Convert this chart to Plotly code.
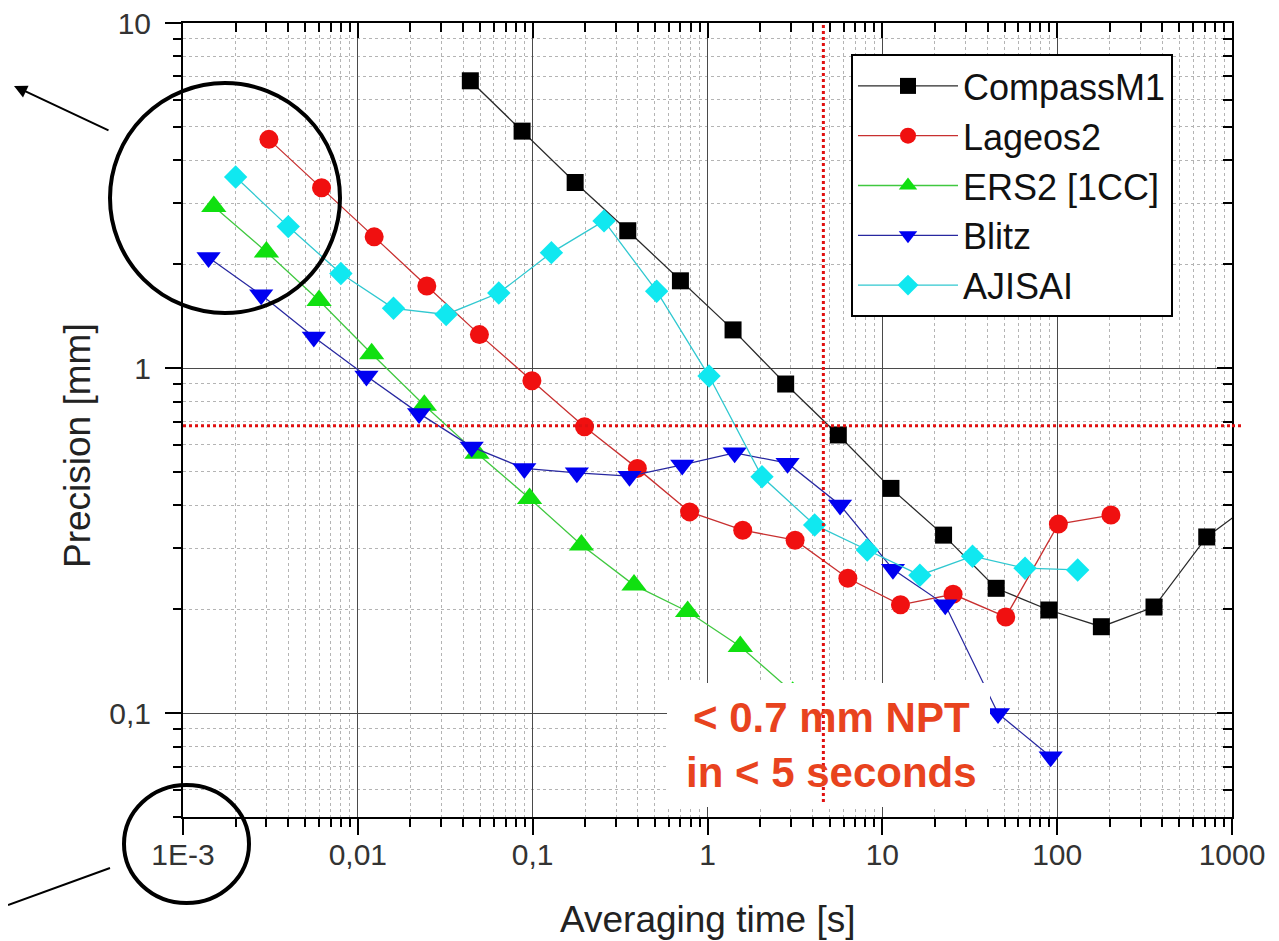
import plotly.graph_objects as go
import math

# ---------------- data ----------------
compass_x = [0.044, 0.087, 0.175, 0.35, 0.7, 1.4, 2.8, 5.6, 11.2, 22.4, 44.8, 89.6, 179, 358, 717, 1434]
compass_y = [6.80, 4.86, 3.45, 2.50, 1.79, 1.29, 0.899, 0.64, 0.448, 0.328, 0.230, 0.199, 0.178, 0.203, 0.324, 0.42]

lageos_x = [0.0031, 0.0062, 0.0124, 0.0248, 0.0496, 0.099, 0.198, 0.397, 0.79, 1.59, 3.17, 6.35, 12.7, 25.4, 50.8, 101.6, 203]
lageos_y = [4.60, 3.33, 2.40, 1.73, 1.25, 0.919, 0.676, 0.512, 0.383, 0.339, 0.317, 0.246, 0.206, 0.221, 0.190, 0.353, 0.375]

ers_x = [0.0015, 0.003, 0.006, 0.012, 0.024, 0.048, 0.096, 0.19, 0.38, 0.77, 1.54, 3.07]
ers_y = [2.94, 2.17, 1.57, 1.10, 0.78, 0.566, 0.419, 0.307, 0.235, 0.197, 0.156, 0.115]

blitz_x = [0.0014, 0.0028, 0.0056, 0.0112, 0.0224, 0.0448, 0.0896, 0.179, 0.358, 0.717, 1.43, 2.87, 5.73, 11.5, 22.9, 45.9, 91.8]
blitz_y = [2.09, 1.63, 1.23, 0.948, 0.739, 0.591, 0.512, 0.497, 0.486, 0.524, 0.568, 0.530, 0.401, 0.261, 0.206, 0.0998, 0.0747]

ajisai_x = [0.002, 0.004, 0.008, 0.016, 0.032, 0.064, 0.128, 0.256, 0.512, 1.02, 2.05, 4.1, 8.2, 16.4, 32.8, 65.5, 131]
ajisai_y = [3.58, 2.57, 1.88, 1.49, 1.43, 1.65, 2.16, 2.67, 1.67, 0.948, 0.484, 0.351, 0.297, 0.251, 0.285, 0.263, 0.260]

threshold_precision = 0.68   # mm (horizontal dotted line)
threshold_time = 4.6         # s  (vertical dotted line)

x_tickvals = [0.001, 0.01, 0.1, 1, 10, 100, 1000]
x_ticktext = ["1E-3", "0,01", "0,1", "1", "10", "100", "1000"]
y_tickvals = [0.1, 1, 10]
y_ticktext = ["0,1", "1", "10"]

x_range = [0.001, 1000]
y_range = [0.05, 10]

# ---------------- layout geometry (page pixels) ----------------
FONT = "Liberation Sans, Arial, sans-serif"
PAGE_OFF = 8                      # default body margin of the page
PL, PR, PT, PB = 183, 1232, 23, 817   # plot area on the page
W, H = 1279 - PAGE_OFF, 941 - PAGE_OFF
ML, MT = PL - PAGE_OFF, PT - PAGE_OFF
MR = W - (PR - PAGE_OFF)
MB = H - (PB - PAGE_OFF)
PW, PH = PR - PL, PB - PT


def px(xp):
    """page x pixel -> paper fraction"""
    return (xp - PL) / PW


def py(yp):
    """page y pixel -> paper fraction"""
    return (PB - yp) / PH


def minor_vals(lo, hi):
    vals = []
    e = math.floor(math.log10(lo))
    while 10 ** e <= hi:
        for k in range(2, 10):
            v = k * 10 ** e
            if lo <= v <= hi:
                vals.append(v)
        e += 1
    return vals


series = [
    ("CompassM1", compass_x, compass_y, "#000000", "#2a2a2a", "square", 17),
    ("Lageos2", lageos_x, lageos_y, "#f01010", "#c83030", "circle", 19),
    ("ERS2 [1CC]", ers_x, ers_y, "#10e010", "#40c840", "triangle-up", 22),
    ("Blitz", blitz_x, blitz_y, "#0000f0", "#2828a0", "triangle-down", 21),
    ("AJISAI", ajisai_x, ajisai_y, "#10e8f0", "#30c8d0", "diamond", 18),
]

fig = go.Figure()
for name, xs, ys, mcol, lcol, sym, size in series:
    fig.add_trace(go.Scatter(
        x=xs, y=ys, name=name, mode="lines+markers",
        line=dict(color=lcol, width=1.3),
        marker=dict(symbol=sym, size=size, color=mcol, line=dict(width=0)),
    ))

# horizontal threshold line drawn through the axes' scales
fig.add_trace(go.Scatter(
    x=x_range, y=[threshold_precision, threshold_precision], mode="lines",
    line=dict(color="#e01010", width=3, dash="dot"), showlegend=False, hoverinfo="skip",
))

# empty trace on a second, coincident subplot that carries the top/right frame (inside ticks)
fig.add_trace(go.Scatter(x=[], y=[], xaxis="x2", yaxis="y2", showlegend=False, hoverinfo="skip"))

lx = [math.log10(v) for v in x_range]
ly = [math.log10(v) for v in y_range]

axis_common = dict(
    type="log", showline=True, linecolor="black", linewidth=2, automargin=False,
    mirror=True, tickcolor="black", tickwidth=2, ticklen=16, ticklabeloverflow="allow",
    tickfont=dict(family=FONT, size=30, color="#333333"),
)

frame_common = dict(
    type="log", automargin=False, showline=True, linecolor="black", linewidth=2,
    tickmode="array", ticks="inside", ticklen=15, tickwidth=2, tickcolor="black",
    showticklabels=False, showgrid=False, zeroline=False, domain=[0, 1],
)

fig.update_layout(
    width=W, height=H,
    margin=dict(l=ML, r=MR, t=MT, b=MB, autoexpand=False),
    paper_bgcolor="white", plot_bgcolor="rgba(0,0,0,0)",
    font=dict(family=FONT, color="#222222"),
    xaxis=dict(
        **axis_common, range=lx, tickmode="array", tickvals=x_tickvals, ticktext=x_ticktext,
        ticks="outside", showgrid=True, gridcolor="#4a4a4a", gridwidth=1, zeroline=False,
        ticklabelstandoff=-6,
        minor=dict(tickmode="array", tickvals=minor_vals(*x_range), ticks="outside", ticklen=8,
                   tickwidth=2, tickcolor="black", showgrid=True, gridcolor="#b4b4b4",
                   griddash="dot", gridwidth=1),
    ),
    yaxis=dict(
        **axis_common, range=ly, tickmode="array", tickvals=y_tickvals, ticktext=y_ticktext,
        ticks="outside", showgrid=True, gridcolor="#4a4a4a", gridwidth=1, zeroline=False,
        ticklabelstandoff=8,
        minor=dict(tickmode="array", tickvals=minor_vals(*y_range), ticks="outside", ticklen=8,
                   tickwidth=2, tickcolor="black", showgrid=True, gridcolor="#b4b4b4",
                   griddash="dot", gridwidth=1),
    ),
    xaxis2=dict(
        **frame_common, range=lx, side="top", anchor="y2", tickvals=x_tickvals,
        minor=dict(tickmode="array", tickvals=minor_vals(*x_range), ticks="inside", ticklen=9,
                   tickwidth=2, tickcolor="black", showgrid=False),
    ),
    yaxis2=dict(
        **frame_common, range=ly, side="right", anchor="x2", tickvals=y_tickvals,
        minor=dict(tickmode="array", tickvals=minor_vals(*y_range), ticks="inside", ticklen=9,
                   tickwidth=2, tickcolor="black", showgrid=False),
    ),
    legend=dict(
        x=px(851), y=py(54), xanchor="left", yanchor="top",
        bgcolor="white", bordercolor="black", borderwidth=2,
        font=dict(family=FONT, size=36, color="#111111"),
        itemwidth=100, tracegroupgap=0,
    ),
    showlegend=True,
)

shapes = [
    # white box behind the annotation text (covers grid and data)
    dict(type="rect", xref="paper", yref="paper", x0=px(667), x1=px(990), y0=py(807), y1=py(683),
         fillcolor="white", line=dict(width=0), layer="above"),
    # vertical threshold line
    dict(type="line", xref="x", yref="paper", x0=threshold_time, x1=threshold_time,
         y0=py(802), y1=1.0, line=dict(color="#e01010", width=3, dash="dot"), layer="above"),
    # horizontal threshold line extension beyond right axis
    dict(type="line", xref="paper", yref="y", x0=1.0, x1=px(1243),
         y0=threshold_precision, y1=threshold_precision,
         line=dict(color="#e01010", width=3, dash="dot"), layer="above"),
    # highlight circles
    dict(type="circle", xref="paper", yref="paper", x0=px(110), x1=px(340), y0=py(313), y1=py(83),
         line=dict(color="black", width=4), layer="above"),
    dict(type="circle", xref="paper", yref="paper", x0=px(124), x1=px(249), y0=py(903), y1=py(785),
         line=dict(color="black", width=4), layer="above"),
    dict(type="line", xref="paper", yref="paper", x0=px(8), y0=py(905), x1=px(110), y1=py(868),
         line=dict(color="black", width=2)),
]
fig.update_layout(shapes=shapes)

fig.add_annotation(
    xref="paper", yref="paper", x=px(831), y=py(745), xanchor="center", yanchor="middle",
    text="&lt; 0.7 mm NPT<br>in &lt; 5 seconds", showarrow=False,
    font=dict(family=FONT, size=42, color="#e8431e", weight="bold"),
)
# axis titles
fig.add_annotation(
    xref="paper", yref="paper", x=px(77), y=py(446), xanchor="center", yanchor="middle",
    text="Precision [mm]", textangle=-90, showarrow=False,
    font=dict(family=FONT, size=37, color="#222222"),
)
fig.add_annotation(
    xref="paper", yref="paper", x=px(707), y=py(919), xanchor="center", yanchor="middle",
    text="Averaging time [s]", showarrow=False,
    font=dict(family=FONT, size=37, color="#222222"),
)
fig.add_annotation(
    xref="paper", yref="paper", x=px(14), y=py(86), ax=96, ay=45, text="",
    showarrow=True, arrowhead=2, arrowsize=1.3, arrowwidth=2, arrowcolor="black",
)

fig.write_html("out.html")
